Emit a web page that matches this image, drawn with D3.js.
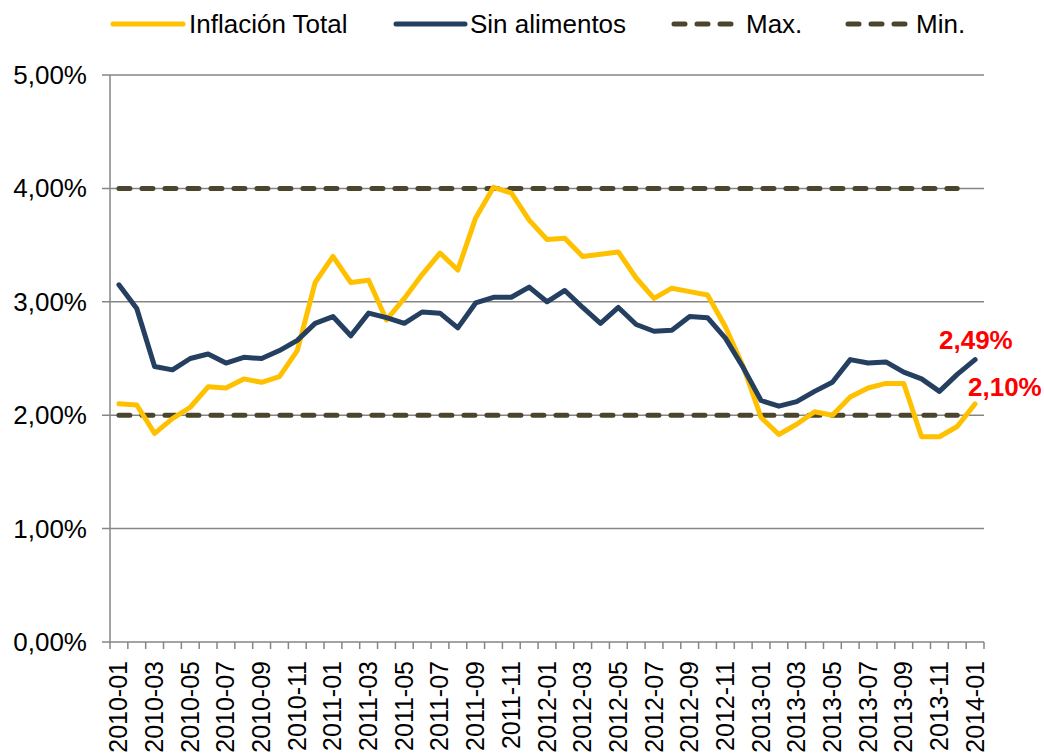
<!DOCTYPE html>
<html>
<head>
<meta charset="utf-8">
<script src="https://cdn.jsdelivr.net/npm/d3@7"></script>
<style>
  body { margin: 0; background: #fff; }
  text { font-family: "Liberation Sans", Arial, sans-serif; }
</style>
</head>
<body>
<div id="chart"></div>
<script>
// months 2010-01 .. 2014-01
var months = [];
for (var yr = 2010; yr <= 2014; yr++) {
    for (var m = 1; m <= 12; m++) {
        if (yr === 2014 && m > 1) break;
        months.push(yr + "-" + (m < 10 ? "0" + m : m));
    }
}

var inflacionTotal = [
    2.10, 2.09, 1.84, 1.97, 2.07, 2.25, 2.24, 2.32, 2.29, 2.34,
    2.57, 3.17, 3.40, 3.17, 3.19, 2.84, 3.03, 3.24, 3.43, 3.28,
    3.74, 4.01, 3.96, 3.72, 3.55, 3.56, 3.40, 3.42, 3.44, 3.21,
    3.03, 3.12, 3.09, 3.06, 2.78, 2.43, 1.98, 1.83, 1.92, 2.03,
    2.00, 2.16, 2.24, 2.28, 2.28, 1.81, 1.81, 1.90, 2.10
];
var sinAlimentos = [
    3.15, 2.94, 2.43, 2.40, 2.50, 2.54, 2.46, 2.51, 2.50, 2.57,
    2.66, 2.81, 2.87, 2.70, 2.90, 2.86, 2.81, 2.91, 2.90, 2.77,
    2.99, 3.04, 3.04, 3.13, 3.00, 3.10, 2.95, 2.81, 2.95, 2.80,
    2.74, 2.75, 2.87, 2.86, 2.68, 2.42, 2.13, 2.08, 2.12, 2.21,
    2.29, 2.49, 2.46, 2.47, 2.38, 2.32, 2.21, 2.36, 2.49
];
// target band runs through 2013-12
var maxBand = months.slice(0, 48).map(function () { return 4; });
var minBand = months.slice(0, 48).map(function () { return 2; });

var yTicks = [0, 1, 2, 3, 4, 5];
var endLabels = [
    { text: "2,49%", value: 2.49 },
    { text: "2,10%", value: 2.10 }
];

var W = 1044, H = 755;
var plotL = 110, plotR = 984, plotT = 75, plotB = 642;

var svg = d3.select("#chart").append("svg")
    .attr("width", W)
    .attr("height", H);

var x = d3.scaleBand().domain(months).range([plotL, plotR]).padding(0);
var y = d3.scaleLinear().domain([0, 5]).range([plotB, plotT]);
var cx = function (i) { return x(months[i]) + x.bandwidth() / 2; };

var fmt = function (v) { return v.toFixed(2).replace(".", ",") + "%"; };

// gridlines + y labels
var gy = svg.append("g").attr("class", "y-axis");
gy.selectAll("line").data(yTicks).enter().append("line")
    .attr("x1", plotL - 8).attr("x2", plotR)
    .attr("y1", function (d) { return y(d); })
    .attr("y2", function (d) { return y(d); })
    .attr("stroke", "#868686")
    .attr("stroke-width", 1.5);
gy.selectAll("text").data(yTicks).enter().append("text")
    .attr("x", 87)
    .attr("y", function (d) { return y(d) + 9; })
    .attr("text-anchor", "end")
    .attr("font-size", 26)
    .attr("fill", "#000")
    .text(fmt);

// left axis line
svg.append("line")
    .attr("x1", plotL).attr("x2", plotL)
    .attr("y1", plotT).attr("y2", plotB)
    .attr("stroke", "#868686").attr("stroke-width", 1.5);

// x ticks at category boundaries
var bounds = months.map(function (d) { return x(d); }).concat([plotR]);
svg.append("g").selectAll("line").data(bounds).enter().append("line")
    .attr("x1", function (d) { return d; })
    .attr("x2", function (d) { return d; })
    .attr("y1", plotB).attr("y2", plotB + 7)
    .attr("stroke", "#868686").attr("stroke-width", 1.5);

// x labels, every other month, rotated
svg.append("g").selectAll("text")
    .data(months.filter(function (d, i) { return i % 2 === 0; }))
    .enter().append("text")
    .attr("transform", function (d) {
        return "translate(" + (x(d) + x.bandwidth() / 2 + 8.5) + "," + 661 + ") rotate(-90)";
    })
    .attr("text-anchor", "end")
    .attr("font-size", 25)
    .attr("fill", "#000")
    .text(function (d) { return d; });

var line = d3.line()
    .x(function (d, i) { return cx(i); })
    .y(function (d) { return y(d); });

var dashStyle = function (sel) {
    sel.attr("fill", "none")
        .attr("stroke", "#4a452c")
        .attr("stroke-width", 5)
        .attr("stroke-linecap", "round")
        .attr("stroke-dasharray", "11,12");
};

svg.append("path").datum(maxBand).attr("d", line).call(dashStyle);
svg.append("path").datum(minBand).attr("d", line).call(dashStyle);

svg.append("path").datum(inflacionTotal).attr("d", line)
    .attr("fill", "none")
    .attr("stroke", "#FFC000")
    .attr("stroke-width", 5)
    .attr("stroke-linejoin", "round")
    .attr("stroke-linecap", "round");

svg.append("path").datum(sinAlimentos).attr("d", line)
    .attr("fill", "none")
    .attr("stroke", "#243F60")
    .attr("stroke-width", 5)
    .attr("stroke-linejoin", "round")
    .attr("stroke-linecap", "round");

// end labels
svg.append("text")
    .attr("x", 939).attr("y", y(endLabels[0].value) - 11)
    .attr("font-size", 26).attr("font-weight", "bold").attr("fill", "#FF0000")
    .text(endLabels[0].text);
svg.append("text")
    .attr("x", 968).attr("y", y(endLabels[1].value) - 8)
    .attr("font-size", 26).attr("font-weight", "bold").attr("fill", "#FF0000")
    .text(endLabels[1].text);

// legend
var legend = [
    { name: "Inflación Total", color: "#FFC000", dash: null, x1: 113, x2: 183, tx: 189 },
    { name: "Sin alimentos", color: "#243F60", dash: null, x1: 396, x2: 465, tx: 470 },
    { name: "Max.", color: "#4a452c", dash: "11,12", x1: 674, x2: 734, tx: 746 },
    { name: "Min.", color: "#4a452c", dash: "11,12", x1: 848, x2: 908, tx: 916 }
];
var lg = svg.append("g").selectAll("g").data(legend).enter().append("g");
lg.append("line")
    .attr("x1", function (d) { return d.x1; })
    .attr("x2", function (d) { return d.x2; })
    .attr("y1", 24).attr("y2", 24)
    .attr("stroke", function (d) { return d.color; })
    .attr("stroke-width", 5)
    .attr("stroke-linecap", "round")
    .attr("stroke-dasharray", function (d) { return d.dash; });
lg.append("text")
    .attr("x", function (d) { return d.tx; })
    .attr("y", 33)
    .attr("font-size", 26)
    .attr("fill", "#000")
    .text(function (d) { return d.name; });
</script>
</body>
</html>
